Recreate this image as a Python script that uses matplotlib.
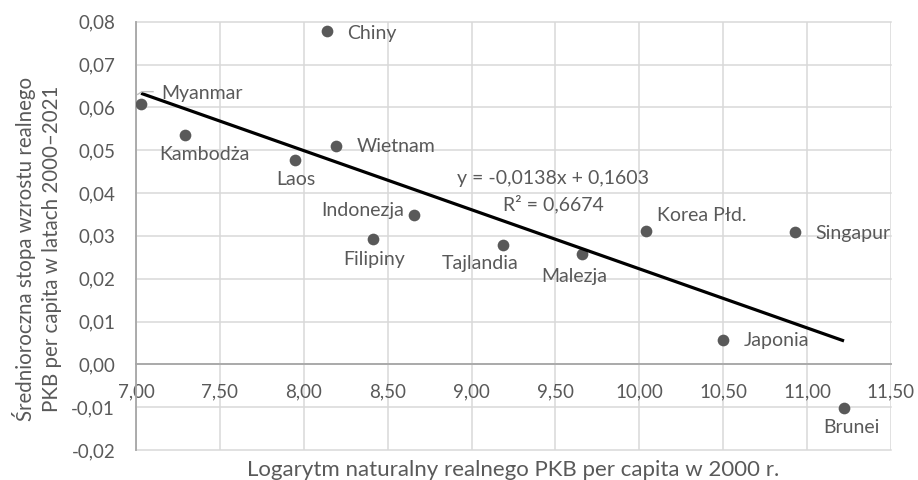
import matplotlib
matplotlib.use("Agg")
import matplotlib.pyplot as plt
import numpy as np
from matplotlib.ticker import FuncFormatter

plt.rcParams['font.family'] = ['Lato', 'DejaVu Sans']

# Country data: log of real GDP per capita in 2000 vs average annual growth 2000-2021
countries = ["Myanmar", "Kambodża", "Laos", "Chiny", "Wietnam", "Indonezja", "Filipiny",
             "Tajlandia", "Malezja", "Korea Płd.", "Japonia", "Singapur", "Brunei"]
log_gdp_2000 = [7.03, 7.29, 7.95, 8.14, 8.19, 8.655, 8.415, 9.19, 9.66, 10.04, 10.50, 10.93, 11.22]
avg_growth = [0.0607, 0.0536, 0.0476, 0.0778, 0.0510, 0.0348, 0.0293,
              0.0279, 0.0258, 0.0312, 0.0057, 0.0309, -0.0101]

# Linear trend (as reported)
trend_slope = -0.0138
trend_intercept = 0.1603
trend_r2 = 0.6674

x_ticks = [7.0, 7.5, 8.0, 8.5, 9.0, 9.5, 10.0, 10.5, 11.0, 11.5]
y_ticks = [-0.02, -0.01, 0.0, 0.01, 0.02, 0.03, 0.04, 0.05, 0.06, 0.07, 0.08]

# Label placement: (horizontal alignment, dx px, dy px)
label_place = {
    "Myanmar": ("left", 20, 11),
    "Kambodża": ("center", 20, -20),
    "Laos": ("center", 0, -19),
    "Chiny": ("left", 20, -2),
    "Wietnam": ("left", 21, -1),
    "Indonezja": ("right", -10, 5),
    "Filipiny": ("center", 1, -21),
    "Tajlandia": ("center", -23, -19),
    "Malezja": ("center", -8, -23),
    "Korea Płd.": ("left", 11, 15),
    "Japonia": ("left", 20, -1),
    "Singapur": ("left", 20, -1.5),
    "Brunei": ("center", 7, -20),
}

TXT = "#595959"
GRID = "#d9d9d9"
AXIS = "#a6a6a6"
FS_TICK = 13.5
FS_LABEL = 14

fig = plt.figure(figsize=(9.18, 4.80), dpi=100)
ax = fig.add_axes([136 / 918, 1 - 450 / 480, (891 - 136) / 918, (450 - 21.7) / 480])

ax.set_xlim(x_ticks[0], x_ticks[-1])
ax.set_ylim(y_ticks[0], y_ticks[-1])
ax.set_xticks(x_ticks)
ax.set_yticks(y_ticks)

comma = FuncFormatter(lambda v, _: f"{v:.2f}".replace(".", ","))
ax.xaxis.set_major_formatter(comma)
ax.yaxis.set_major_formatter(comma)

ax.grid(True, color=GRID, linewidth=1.1, zorder=0)
for gl in ax.get_xgridlines() + ax.get_ygridlines():
    gl.set_clip_on(False)
ax.set_axisbelow(True)

for s in ("top", "right"):
    ax.spines[s].set_visible(False)
ax.spines["bottom"].set_position(("data", 0))
ax.spines["bottom"].set_color(AXIS)
ax.spines["bottom"].set_linewidth(1.3)
ax.spines["left"].set_color(AXIS)
ax.spines["left"].set_linewidth(1.3)

ax.tick_params(axis="x", length=0, pad=14, labelsize=FS_TICK, labelcolor=TXT)
ax.tick_params(axis="y", length=0, pad=15, labelsize=FS_TICK, labelcolor=TXT)

# Points
ax.scatter(log_gdp_2000, avg_growth, s=71, color="#595959", zorder=3, linewidths=0)

# Trend line over the data range
xs = np.array([min(log_gdp_2000), max(log_gdp_2000)])
ax.plot(xs, trend_slope * xs + trend_intercept, color="black", linewidth=2.3, zorder=4,
        solid_capstyle="butt")

# Data labels
for name, xv, yv in zip(countries, log_gdp_2000, avg_growth):
    ha, dx, dy = label_place[name]
    ax.annotate(name, (xv, yv), xytext=(dx, dy), textcoords="offset pixels",
                ha=ha, va="center", fontsize=FS_LABEL, color=TXT, zorder=5)

# Leader line for Myanmar label
mx, my = log_gdp_2000[0], avg_growth[0]
px, py = ax.transData.transform((mx, my))
leader = np.array([[px - 3.3, py + 10], [px + 1, py + 12.7], [px + 12, py + 12.7]])
ld = ax.transData.inverted().transform(leader)
ax.plot(ld[:, 0], ld[:, 1], color="#bfbfbf", linewidth=1.0, zorder=5)

# Trend equation
eq = f"y = {trend_slope:.4f}x + {trend_intercept:.4f}".replace(".", ",")
r2 = f"R² = {trend_r2:.4f}".replace(".", ",")
ax.text(9.485, 0.04346, eq, ha="center", va="center", fontsize=FS_LABEL, color=TXT, zorder=5)
ax.text(9.49, 0.03738, r2, ha="center", va="center", fontsize=FS_LABEL, color=TXT, zorder=5)

# Axis titles
ax.text(0.5, -0.047, "Logarytm naturalny realnego PKB per capita w 2000 r.",
        transform=ax.transAxes, ha="center", va="center", fontsize=16, color=TXT)
ax.text(-0.1311, 0.47, "Średnioroczna stopa wzrostu realnego\nPKB per capita w latach 2000–2021",
        transform=ax.transAxes, ha="center", va="center", rotation=90, fontsize=14.8,
        color=TXT, linespacing=1.4, multialignment="center")

fig.savefig("out.png", dpi=100)
